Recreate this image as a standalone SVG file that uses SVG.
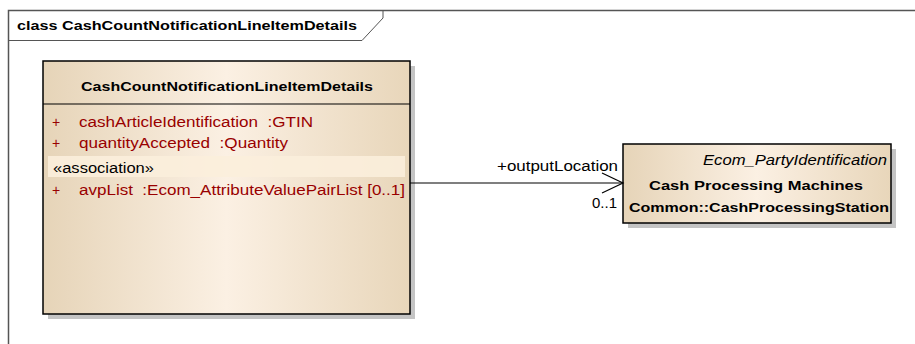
<svg xmlns="http://www.w3.org/2000/svg" width="915" height="344" viewBox="0 0 915 344">
<defs>
<linearGradient id="g" x1="0" y1="0" x2="1" y2="0">
<stop offset="0" stop-color="#E6D4B8"/>
<stop offset="0.5" stop-color="#FBF0E3"/>
<stop offset="1" stop-color="#E8D6BA"/>
</linearGradient>
<style>
text{font-family:"Liberation Sans",Arial,sans-serif;font-size:14px;fill:#000}
.b{font-weight:bold;font-size:13.5px}
.attr{fill:#990000}
.box{fill:url(#g);stroke:#000;stroke-width:1.5}
.sh{fill:#C4C4C4}
.ln{stroke:#000;stroke-width:1.2;fill:none}
</style>
</defs>
<rect x="0" y="0" width="915" height="344" fill="#fff"/>
<g id="frame">
<path d="M8.5 344 V10.5 H915" fill="none" stroke="#555" stroke-width="1.5"/>
<path d="M8.5 40.5 H362 L383 18 V10.5" fill="none" stroke="#555" stroke-width="1"/>
<text x="17" y="30" class="b" textLength="340" lengthAdjust="spacingAndGlyphs">class CashCountNotificationLineItemDetails</text>
</g>
<g id="CashCountNotificationLineItemDetails">
<rect class="sh" x="48" y="66" width="367" height="253"/>
<rect class="box" x="43" y="61" width="367" height="253"/>
<line class="ln" x1="43" y1="104" x2="410" y2="104"/>
<text x="81" y="91" class="b" textLength="292" lengthAdjust="spacingAndGlyphs">CashCountNotificationLineItemDetails</text>
<text x="52" y="127" class="attr">+</text>
<text x="79" y="127" class="attr" textLength="234" lengthAdjust="spacingAndGlyphs" xml:space="preserve">cashArticleIdentification  :GTIN</text>
<text x="52" y="148" class="attr">+</text>
<text x="79" y="148" class="attr" textLength="209" lengthAdjust="spacingAndGlyphs" xml:space="preserve">quantityAccepted  :Quantity</text>
<rect x="48" y="156" width="357" height="21" fill="#FBEEDC" opacity="0.9"/>
<text x="53" y="173" textLength="101" lengthAdjust="spacingAndGlyphs">«association»</text>
<text x="52" y="195" class="attr">+</text>
<text x="79" y="195" class="attr" textLength="326" lengthAdjust="spacingAndGlyphs" xml:space="preserve">avpList  :Ecom_AttributeValuePairList [0..1]</text>
</g>
<g id="CashProcessingStation">
<rect class="sh" x="628" y="149" width="268" height="79"/>
<rect class="box" x="623" y="144" width="268" height="79"/>
<text x="703" y="165" font-style="italic" textLength="184" lengthAdjust="spacingAndGlyphs">Ecom_PartyIdentification</text>
<text x="649" y="190" class="b" textLength="214" lengthAdjust="spacingAndGlyphs">Cash Processing Machines</text>
<text x="629" y="212" class="b" textLength="260" lengthAdjust="spacingAndGlyphs">Common::CashProcessingStation</text>
</g>
<g id="connectors">
<line class="ln" x1="410" y1="183" x2="623" y2="183"/>
<polyline class="ln" points="602,173 623,183 602,193"/>
<text x="497" y="171" textLength="121" lengthAdjust="spacingAndGlyphs">+outputLocation</text>
<text x="592" y="208" textLength="25" lengthAdjust="spacingAndGlyphs">0..1</text>
</g>
</svg>
